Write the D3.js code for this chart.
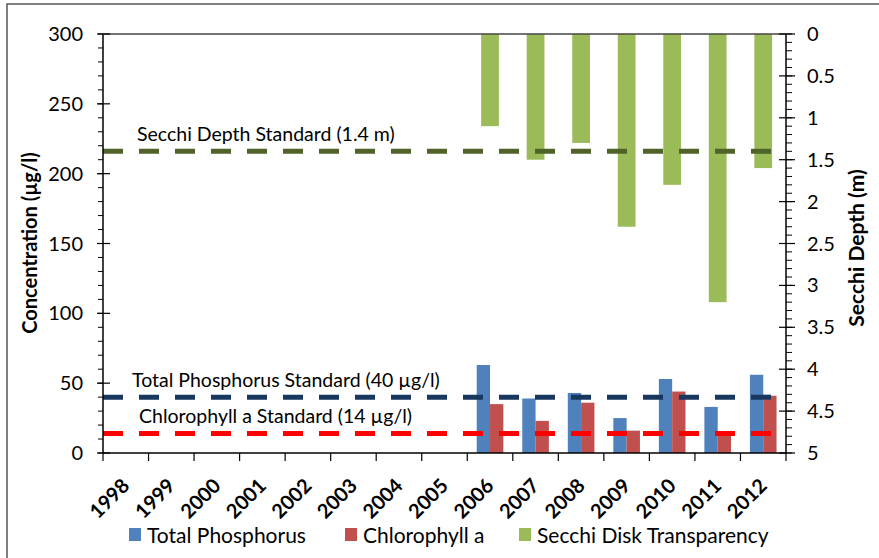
<!DOCTYPE html>
<html>
<head>
<meta charset="utf-8">
<script src="https://cdn.jsdelivr.net/npm/d3@7"></script>
<style>
  body{margin:0;background:#fff;}
  svg text{font-family:Lato,"Open Sans",sans-serif;fill:#000;}
</style>
</head>
<body>
<div id="chart"></div>
<script>
// values
var years = ['1998','1999','2000','2001','2002','2003','2004','2005','2006','2007','2008','2009','2010','2011','2012'];
var totalPhosphorus = [null,null,null,null,null,null,null,null,63,39,43,25,53,33,56];
var chlorophyllA = [null,null,null,null,null,null,null,null,35,23,36,16,44,14,41];
var secchiDepth = [null,null,null,null,null,null,null,null,1.1,1.5,1.3,2.3,1.8,3.2,1.6];
var concTicks = [0,50,100,150,200,250,300];
var secchiTicks = [0,0.5,1,1.5,2,2.5,3,3.5,4,4.5,5];
var seriesNames = ['Total Phosphorus','Chlorophyll a','Secchi Disk Transparency'];
var standardNames = ['Secchi Depth Standard (1.4 m)','Total Phosphorus Standard (40 \u00b5g/l)','Chlorophyll a Standard (14 \u00b5g/l)'];
var standardValues = [1.4,40,14];

var width = 879, height = 558;
var plotLeft = 103, plotRight = 786, plotTop = 34, plotBottom = 453;
var colors = ['#4F81BD','#C0504D','#9BBB59'];
var lineColors = ['#4F6228','#17375E','#FF0000'];

var svg = d3.select('#chart').append('svg')
  .attr('width',width)
  .attr('height',height);

//outer frame, only top and left show inside the picture
svg.append('rect')
  .attr('x',7).attr('y',4)
  .attr('width',width).attr('height',height)
  .attr('fill','none')
  .attr('stroke','#555')
  .attr('stroke-width',1.5);

var x = d3.scaleBand().domain(years).range([plotLeft,plotRight]);
var xSub = d3.scaleBand().domain(['tp','chl']).range([0,x.bandwidth()]).paddingOuter(0.71);
var yConc = d3.scaleLinear().domain([0,300]).range([plotBottom,plotTop]);
var ySecchi = d3.scaleLinear().domain([0,5]).range([plotTop,plotBottom]);
var secchiWidth = x.bandwidth()*0.39;

//secchi bars hang down from the top
svg.append('g').selectAll('rect')
  .data(years.map(function(y,i){return {year:y,v:secchiDepth[i]};}).filter(function(d){return d.v!=null;}))
  .enter().append('rect')
  .attr('x',function(d){return x(d.year)+(x.bandwidth()-secchiWidth)/2;})
  .attr('y',ySecchi(0))
  .attr('width',secchiWidth)
  .attr('height',function(d){return ySecchi(d.v)-ySecchi(0);})
  .attr('fill',colors[2]);

//phosphorus and chlorophyll grouped bars
var groups = [['tp',totalPhosphorus,colors[0]],['chl',chlorophyllA,colors[1]]];
groups.forEach(function(g){
  svg.append('g').selectAll('rect')
    .data(years.map(function(y,i){return {year:y,v:g[1][i]};}).filter(function(d){return d.v!=null;}))
    .enter().append('rect')
    .attr('x',function(d){return x(d.year)+xSub(g[0]);})
    .attr('y',function(d){return yConc(d.v);})
    .attr('width',xSub.bandwidth())
    .attr('height',function(d){return yConc(0)-yConc(d.v);})
    .attr('fill',g[2]);
});

//standard lines
var lineEnd = 775;
var stdY = [ySecchi(standardValues[0]),yConc(standardValues[1]),yConc(standardValues[2])];
var labelX = [137,132,139];
stdY.forEach(function(yy,i){
  svg.append('line')
    .attr('x1',plotLeft).attr('x2',lineEnd)
    .attr('y1',yy).attr('y2',yy)
    .attr('stroke',lineColors[i])
    .attr('stroke-width',5)
    .attr('stroke-dasharray','20,16');
  svg.append('text')
    .attr('x',labelX[i])
    .attr('y',yy-10)
    .attr('font-size',19.5)
    .text(standardNames[i]);
});

//axis lines
var axisG = svg.append('g').attr('stroke','#000').attr('stroke-width',1.5);
axisG.append('line').attr('x1',plotLeft).attr('x2',plotLeft).attr('y1',plotTop).attr('y2',plotBottom);
axisG.append('line').attr('x1',plotRight).attr('x2',plotRight).attr('y1',plotTop).attr('y2',plotBottom);
axisG.append('line').attr('x1',plotLeft).attr('x2',plotRight).attr('y1',plotBottom).attr('y2',plotBottom);
axisG.append('line').attr('x1',plotLeft).attr('x2',plotRight).attr('y1',plotTop).attr('y2',plotTop).attr('stroke','#444');

//left ticks: minor every 10, major every 50
axisG.selectAll('.lminor').data(d3.range(0,301,10)).enter().append('line')
  .attr('x1',plotLeft-5).attr('x2',plotLeft)
  .attr('y1',yConc).attr('y2',yConc).attr('stroke-width',1);
axisG.selectAll('.lmajor').data(concTicks).enter().append('line')
  .attr('x1',plotLeft-6).attr('x2',plotLeft+7)
  .attr('y1',yConc).attr('y2',yConc).attr('stroke-width',1.2);
svg.append('g').selectAll('text').data(concTicks).enter().append('text')
  .attr('x',83).attr('y',function(d){return yConc(d)+7;})
  .attr('text-anchor','end')
  .attr('font-size',20)
  .text(function(d){return d;});

//right ticks: minor every 0.1, major every 0.5
axisG.selectAll('.rminor').data(d3.range(0,51).map(function(i){return i/10;})).enter().append('line')
  .attr('x1',plotRight).attr('x2',plotRight+6)
  .attr('y1',ySecchi).attr('y2',ySecchi).attr('stroke-width',1);
axisG.selectAll('.rmajor').data(secchiTicks).enter().append('line')
  .attr('x1',plotRight-7).attr('x2',plotRight+9)
  .attr('y1',ySecchi).attr('y2',ySecchi).attr('stroke-width',1.2);
svg.append('g').selectAll('text').data(secchiTicks).enter().append('text')
  .attr('x',807).attr('y',function(d){return ySecchi(d)+7;})
  .attr('font-size',20)
  .text(function(d){return d;});

//category ticks at band edges
axisG.selectAll('.xtick').data(years.concat(['end'])).enter().append('line')
  .attr('x1',function(d,i){return plotLeft+i*x.step();})
  .attr('x2',function(d,i){return plotLeft+i*x.step();})
  .attr('y1',plotBottom).attr('y2',plotBottom+8).attr('stroke-width',1.2);
svg.append('g').selectAll('text').data(years).enter().append('text')
  .attr('transform',function(d){return 'translate('+(x(d)+x.bandwidth()/2+5)+','+(plotBottom+34)+') rotate(-45)';})
  .attr('text-anchor','end')
  .attr('font-size',20)
  .attr('font-weight','bold')
  .text(function(d){return d;});

//axis titles
svg.append('text')
  .attr('transform','translate(37,243) rotate(-90)')
  .attr('text-anchor','middle')
  .attr('font-size',20)
  .attr('font-weight','bold')
  .text('Concentration (\u00b5g/l)');
svg.append('text')
  .attr('transform','translate(864,248) rotate(-90)')
  .attr('text-anchor','middle')
  .attr('font-size',21)
  .attr('font-weight','bold')
  .text('Secchi Depth (m)');

//legend
var legendX = [129,345,519];
var legend = svg.append('g').selectAll('g').data(seriesNames).enter().append('g')
  .attr('transform',function(d,i){return 'translate('+legendX[i]+',528)';});
legend.append('rect')
  .attr('width',12).attr('height',13)
  .attr('fill',function(d,i){return colors[i];});
legend.append('text')
  .attr('x',18).attr('y',15)
  .attr('font-size',21)
  .text(function(d){return d;});
</script>
</body>
</html>
